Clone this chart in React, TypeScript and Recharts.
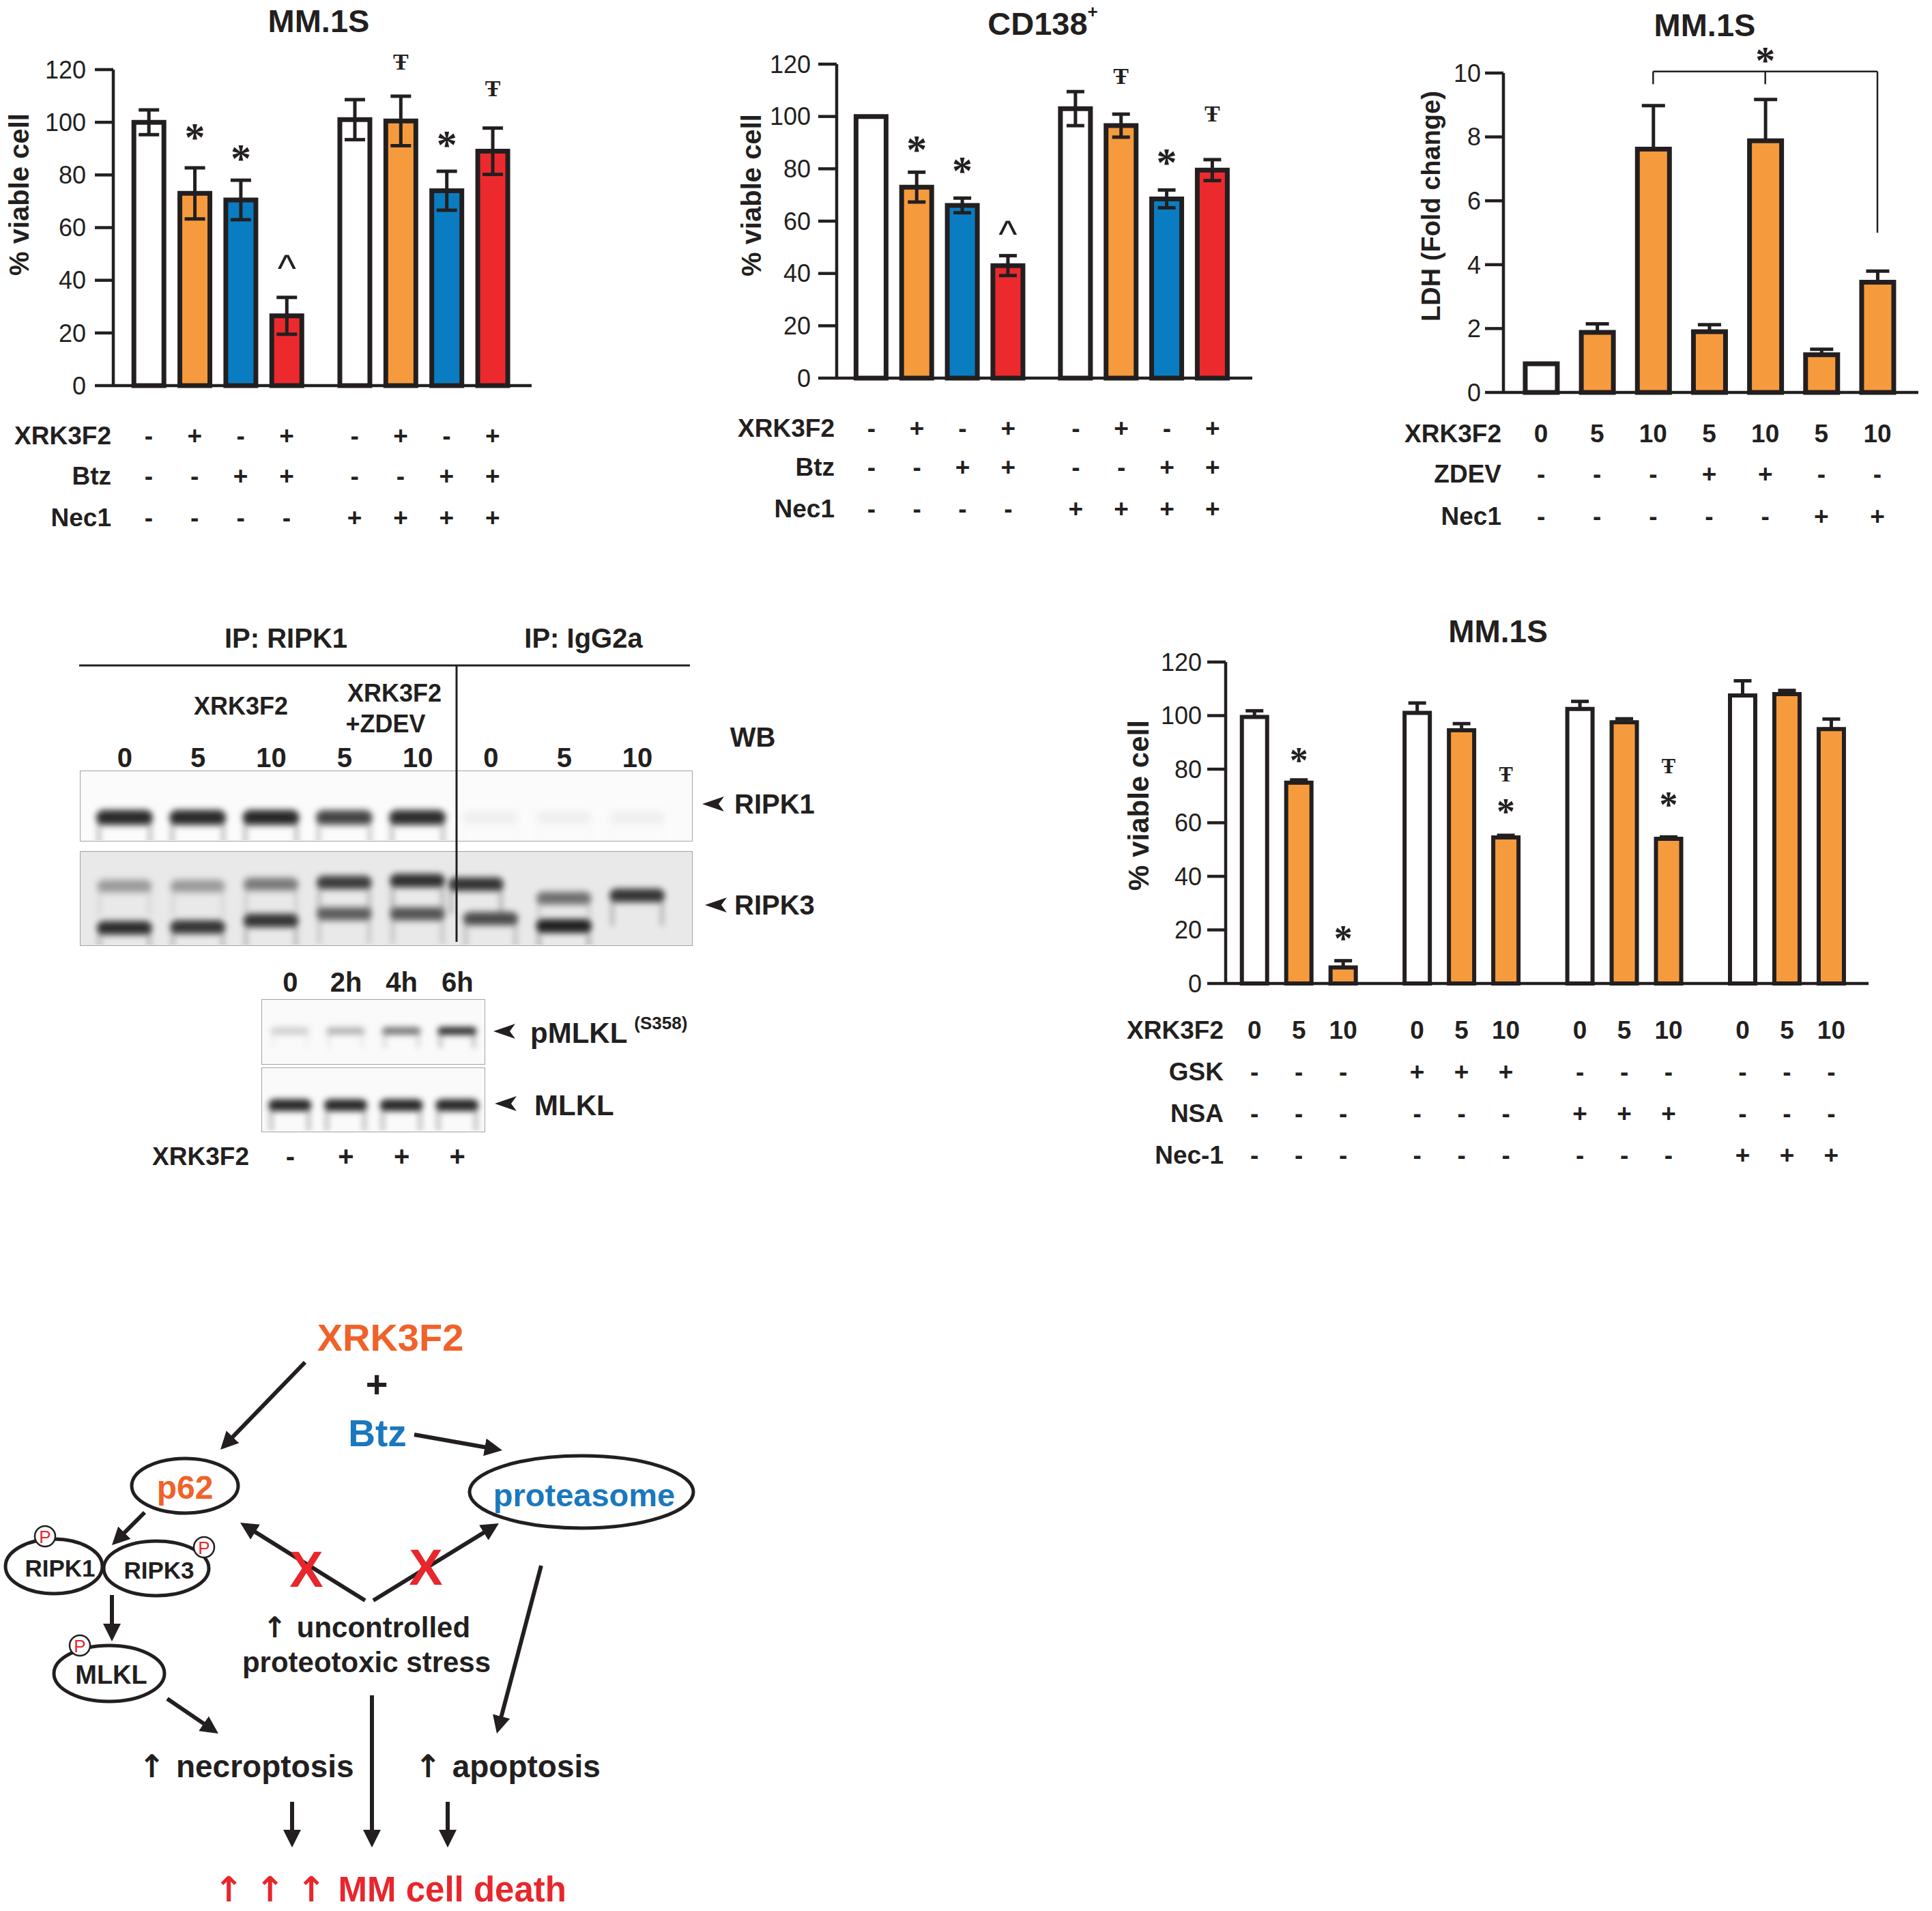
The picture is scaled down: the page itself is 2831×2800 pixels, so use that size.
import React from "react";
import {
  Bar,
  Cell,
  ComposedChart,
  ErrorBar,
  LabelList,
  ReferenceDot,
  ReferenceLine,
  Scatter,
  ScatterChart,
  XAxis,
  YAxis,
} from "recharts";

const INK = "#231f20";
const ORANGE = "#f59b3d";
const BLUE = "#0a7dc2";
const RED = "#ec2a2e";
const TXT_ORANGE = "#f0622a";
const TXT_BLUE = "#1a78bd";
const TXT_RED = "#e8262c";
const SANS = "'Liberation Sans', Arial, Helvetica, sans-serif";
const SERIF = "'Liberation Serif', 'Times New Roman', serif";
const ARROWS = "'DejaVu Sans', sans-serif";

// top left (MM.1S) and top middle (CD138+) share the treatment grid
const comboXrk = ["-", "+", "-", "+", "-", "+", "-", "+"];
const comboBtz = ["-", "-", "+", "+", "-", "-", "+", "+"];
const comboNec1 = ["-", "-", "-", "-", "+", "+", "+", "+"];

const mmViable = [100, 73, 70.5, 26.5, 101, 100.5, 74, 89];
const mmViableSem = [4.7, 9.7, 7.5, 7, 7.6, 9.4, 7.4, 8.8];
const mmViableMarks = ["", "*", "*", "^", "", "Ŧ", "*", "Ŧ"];
const mmViableMarkAt = [null, 97, 89, 47, null, 123, 94, 113];

const cdViable = [100, 73, 66, 43, 103, 96.5, 68.5, 79.5];
const cdViableSem = [null, 5.7, 2.8, 3.8, 6.5, 4.4, 3.4, 4];
const cdViableMarks = ["", "*", "*", "^", "", "Ŧ", "*", "Ŧ"];
const cdViableMarkAt = [null, 90, 82, 57.5, null, 115.5, 85, 101];

// LDH release
const ldhDose = ["0", "5", "10", "5", "10", "5", "10"];
const ldhZdev = ["-", "-", "-", "+", "+", "-", "-"];
const ldhNec1 = ["-", "-", "-", "-", "-", "+", "+"];
const ldhFold = [0.9, 1.88, 7.62, 1.9, 7.88, 1.18, 3.45];
const ldhSem = [null, 0.27, 1.36, 0.22, 1.29, 0.17, 0.35];
const ldhBracketBars = [2, 4, 6];
const ldhBracketEnds = [9.65, 9.65, 5.0];
const ldhBracketTop = 10.05;
const ldhStarAt = 10.62;

// MM.1S with necroptosis inhibitors
const inhDose = ["0", "5", "10", "0", "5", "10", "0", "5", "10", "0", "5", "10"];
const inhGsk = ["-", "-", "-", "+", "+", "+", "-", "-", "-", "-", "-", "-"];
const inhNsa = ["-", "-", "-", "-", "-", "-", "+", "+", "+", "-", "-", "-"];
const inhNec1 = ["-", "-", "-", "-", "-", "-", "-", "-", "-", "+", "+", "+"];
const inhViable = [99.5, 75, 6, 101, 94.5, 54.5, 102.5, 97.5, 54, 107.5, 108, 95];
const inhSem = [2.3, 1, 2.5, 3.7, 2.5, 0.8, 2.8, 1.3, 0.7, 5.5, 1.4, 3.7];
const inhStars = ["", "*", "*", "", "", "*", "", "", "*", "", "", ""];
const inhStarAt = [null, 85.5, 19, null, null, 66.5, null, null, 69, null, null, null];
const inhDaggers = ["", "", "", "", "", "Ŧ", "", "", "Ŧ", "", "", ""];
const inhDaggerAt = [null, null, null, null, null, 78, null, null, 81, null, null, null];

// western blots (band darkness 0..1)
const ipLanes = ["0", "5", "10", "5", "10", "0", "5", "10"];
const ripk1Lane = [0, 1, 2, 3, 4, 5, 6, 7];
const ripk1Level = [0.95, 0.95, 0.97, 0.78, 0.92, 0.04, 0.04, 0.04];
const ripk3Lane = [0, 0, 1, 1, 2, 2, 3, 3, 4, 4, 4.8, 5, 6, 6, 7];
const ripk3Pos = [0.37, 0.82, 0.37, 0.81, 0.35, 0.74, 0.33, 0.67, 0.31, 0.67, 0.35, 0.72, 0.5, 0.8, 0.47];
const ripk3Level = [0.3, 0.9, 0.3, 0.85, 0.45, 0.85, 0.8, 0.6, 0.88, 0.65, 0.85, 0.7, 0.5, 1, 0.85];
const timeLanes = ["0", "2h", "4h", "6h"];
const timeXrk = ["-", "+", "+", "+"];
const mlklLane = [0, 1, 2, 3];
const pmlklLevel = [0.15, 0.25, 0.5, 0.9];
const mlklLevel = [0.97, 0.97, 0.97, 0.97];

const slots = (n: number, groupSize: number, gap: number) =>
  Array.from({ length: n }, (_, i) => Math.floor(i / groupSize) * (groupSize + gap) + (i % groupSize));

const comboFill = (i: number) =>
  comboXrk[i] === "+" ? (comboBtz[i] === "+" ? RED : ORANGE) : comboBtz[i] === "+" ? BLUE : "#ffffff";
const doseFill = (d: string) => (d === "0" ? "#ffffff" : ORANGE);

const LIFT: Record<string, number> = { "*": 0.5, "^": 0.5, "Ŧ": 0.34 };
const GLYPH: Record<string, number> = { "*": 60, "^": 58, "Ŧ": 34 };

function markContent(texts: string[], at: (number | null)[], values: number[], scale: number) {
  return (props: any) => {
    const i = props.index;
    const vb = props.viewBox ?? props;
    const t = texts[i];
    const a = at[i];
    if (!t || a == null || !vb || !vb.height) return null;
    const zeroY = vb.y + vb.height;
    const y = zeroY - (a * vb.height) / values[i];
    const size = GLYPH[t] * scale;
    return (
      <text
        x={vb.x + vb.width / 2}
        y={y + LIFT[t] * size}
        textAnchor="middle"
        fontSize={size}
        fontWeight={t === "^" ? 400 : 700}
        fontFamily={t === "^" ? SANS : SERIF}
        fill={INK}
      >
        {t}
      </text>
    );
  };
}

type Row = { label: string; values: string[] };
type MarkRow = { text: string[]; at: (number | null)[] };

type PanelProps = {
  left: number;
  top: number;
  width: number;
  height: number;
  yAxisWidth: number;
  marginTop: number;
  marginRight: number;
  xAxisHeight: number;
  xs: number[];
  xDomain: [number, number];
  values: number[];
  errors: (number | null)[];
  oneSided?: boolean;
  fills: string[];
  yMax: number;
  yTicks: number[];
  tickMargin: number;
  barSize: number;
  barStroke: number;
  capHalf: number;
  rows: Row[];
  rowOffsets: number[];
  marks: MarkRow[];
  markScale?: number;
  children?: React.ReactNode;
};

function BarPanel(p: PanelProps) {
  const data = p.values.map((v, i) => ({
    x: p.xs[i],
    v,
    e: p.errors[i] == null ? null : p.oneSided ? [0, p.errors[i]] : p.errors[i],
  }));
  const labelX = p.yAxisWidth - 3;
  const renderRows = (props: any) => {
    const { x, y, index } = props;
    return (
      <g>
        {p.rows.map((r, ri) => (
          <text
            key={`v${ri}`}
            x={x}
            y={y + p.rowOffsets[ri]}
            textAnchor="middle"
            dominantBaseline="central"
            fontSize={37}
            fontWeight={700}
            fontFamily={SANS}
            fill={INK}
          >
            {r.values[index]}
          </text>
        ))}
        {index === 0 &&
          p.rows.map((r, ri) => (
            <text
              key={`l${ri}`}
              x={labelX}
              y={y + p.rowOffsets[ri]}
              textAnchor="end"
              dominantBaseline="central"
              fontSize={37}
              fontWeight={700}
              fontFamily={SANS}
              fill={INK}
            >
              {r.label}
            </text>
          ))}
      </g>
    );
  };
  return (
    <div style={{ position: "absolute", left: p.left, top: p.top }}>
      <ComposedChart
        width={p.width}
        height={p.height}
        data={data}
        margin={{ top: p.marginTop, right: p.marginRight, bottom: 0, left: 0 }}
      >
        <XAxis
          type="number"
          dataKey="x"
          domain={p.xDomain}
          ticks={p.xs}
          interval={0}
          height={p.xAxisHeight}
          tickLine={false}
          tickSize={0}
          tickMargin={0}
          axisLine={{ stroke: INK, strokeWidth: 4.5 }}
          tick={renderRows}
        />
        <YAxis
          type="number"
          domain={[0, p.yMax]}
          ticks={p.yTicks}
          interval={0}
          width={p.yAxisWidth}
          tickSize={27}
          tickMargin={p.tickMargin}
          axisLine={{ stroke: INK, strokeWidth: 4.5 }}
          tickLine={{ stroke: INK, strokeWidth: 4.5 }}
          tick={{ fill: INK, fontSize: 36, fontFamily: SANS }}
        />
        <Bar dataKey="v" barSize={p.barSize} stroke={INK} strokeWidth={p.barStroke} isAnimationActive={false}>
          {data.map((_, i) => (
            <Cell key={i} fill={p.fills[i]} />
          ))}
          <ErrorBar dataKey="e" width={p.capHalf} stroke={INK} strokeWidth={5} direction="y" />
          {p.marks.map((m, mi) => (
            <LabelList key={mi} dataKey="v" content={markContent(m.text, m.at, p.values, p.markScale ?? 1)} />
          ))}
        </Bar>
        {p.children}
      </ComposedChart>
    </div>
  );
}

function Band(props: any) {
  const { cx, cy, payload, w, h } = props;
  if (cx == null || cy == null) return null;
  const lv = payload.level;
  return (
    <g filter="url(#bandBlur)">
      <rect x={cx - w / 2 + 2} y={cy - 4} width={5} height={h * 2.2} fill="#000" fillOpacity={lv * 0.3} />
      <rect x={cx + w / 2 - 7} y={cy - 4} width={5} height={h * 2.2} fill="#000" fillOpacity={lv * 0.3} />
      <rect x={cx - w / 2} y={cy - h / 2} width={w} height={h} rx={h / 2} fill="#000" fillOpacity={lv * 0.7} />
      <rect
        x={cx - w / 2 + 6}
        y={cy - h / 4}
        width={w - 12}
        height={h / 2}
        rx={h / 4}
        fill="#000"
        fillOpacity={lv * 0.6}
      />
    </g>
  );
}

type BlotProps = {
  left: number;
  top: number;
  width: number;
  height: number;
  lanes: number[];
  pos: number[];
  level: number[];
  xDomain: [number, number];
  bandW: number;
  bandH: number;
  bg: string;
};

function Blot(b: BlotProps) {
  const data = b.lanes.map((lane, i) => ({ lane, pos: b.pos[i], level: b.level[i] }));
  return (
    <div
      style={{
        position: "absolute",
        left: b.left,
        top: b.top,
        width: b.width,
        height: b.height,
        background: b.bg,
        border: "1.5px solid #a3a3a3",
        boxSizing: "border-box",
        overflow: "hidden",
      }}
    >
      <ScatterChart width={b.width - 3} height={b.height - 3} margin={{ top: 0, right: 0, bottom: 0, left: 0 }}>
        <XAxis type="number" dataKey="lane" domain={b.xDomain} hide />
        <YAxis type="number" dataKey="pos" domain={[0, 1]} reversed hide />
        <Scatter
          data={data}
          isAnimationActive={false}
          shape={(props: any) => <Band {...props} w={b.bandW} h={b.bandH} />}
        />
      </ScatterChart>
    </div>
  );
}

const T = (props: any) => (
  <text
    fontFamily={SANS}
    fontWeight={700}
    fill={INK}
    textAnchor="middle"
    dominantBaseline="central"
    {...props}
  />
);

function Arrow({ x1, y1, x2, y2 }: { x1: number; y1: number; x2: number; y2: number }) {
  const len = Math.hypot(x2 - x1, y2 - y1);
  const k = (len - 14) / len;
  return (
    <line
      x1={x1}
      y1={y1}
      x2={x1 + (x2 - x1) * k}
      y2={y1 + (y2 - y1) * k}
      stroke={INK}
      strokeWidth={6}
      markerEnd="url(#ah)"
    />
  );
}

const Pointer = ({ x, y }: { x: number; y: number }) => (
  <path d={`M${x},${y} L${x + 32},${y - 11} L${x + 24},${y} L${x + 32},${y + 11} Z`} fill={INK} />
);

const Phos = ({ x, y }: { x: number; y: number }) => (
  <g>
    <circle cx={x} cy={y} r={15} fill="#fff" stroke={INK} strokeWidth={2.5} />
    <text x={x} y={y + 1} textAnchor="middle" dominantBaseline="central" fontSize={26} fontFamily={SANS} fill={TXT_RED}>
      P
    </text>
  </g>
);

const Up = () => (
  <tspan fontFamily={ARROWS} fontWeight={700}>
    {"↑ "}
  </tspan>
);

// lane centres of the blots, taken from the same domains as the blot charts
const IP_DOMAIN: [number, number] = [-0.6, 7.74];
const TIME_DOMAIN: [number, number] = [-0.5, 3.48];
const laneX = (lane: number, left: number, inner: number, d: [number, number]) =>
  left + 1.5 + ((lane - d[0]) / (d[1] - d[0])) * inner;

export default function App() {
  const abXs = slots(8, 4, 0.48);
  const ldhXs = slots(7, 7, 0);
  const inhXs = slots(12, 3, 0.67);
  return (
    <div
      style={{
        position: "absolute",
        left: 0,
        top: 0,
        width: 2831,
        height: 2800,
        background: "#fff",
        overflow: "hidden",
        fontFamily: SANS,
      }}
    >
      <svg width={0} height={0} style={{ position: "absolute" }}>
        <defs>
          <filter id="bandBlur" x="-30%" y="-100%" width="160%" height="300%">
            <feGaussianBlur stdDeviation="4" />
          </filter>
        </defs>
      </svg>

      <BarPanel
        left={0}
        top={0}
        width={800}
        height={800}
        yAxisWidth={166}
        marginTop={102}
        marginRight={21}
        xAxisHeight={235}
        xs={abXs}
        xDomain={[-0.77, 8.33]}
        values={mmViable}
        errors={mmViableSem}
        fills={mmViable.map((_, i) => comboFill(i))}
        yMax={120}
        yTicks={[0, 20, 40, 60, 80, 100, 120]}
        tickMargin={13}
        barSize={44}
        barStroke={7}
        capHalf={15}
        rows={[
          { label: "XRK3F2", values: comboXrk },
          { label: "Btz", values: comboBtz },
          { label: "Nec1", values: comboNec1 },
        ]}
        rowOffsets={[73, 132, 193]}
        marks={[{ text: mmViableMarks, at: mmViableMarkAt }]}
      />

      <BarPanel
        left={1040}
        top={0}
        width={810}
        height={800}
        yAxisWidth={186}
        marginTop={94}
        marginRight={15}
        xAxisHeight={246}
        xs={abXs}
        xDomain={[-0.76, 8.35]}
        values={cdViable}
        errors={cdViableSem}
        fills={cdViable.map((_, i) => comboFill(i))}
        yMax={120}
        yTicks={[0, 20, 40, 60, 80, 100, 120]}
        tickMargin={11}
        barSize={44}
        barStroke={7}
        capHalf={13}
        rows={[
          { label: "XRK3F2", values: comboXrk },
          { label: "Btz", values: comboBtz },
          { label: "Nec1", values: comboNec1 },
        ]}
        rowOffsets={[73, 130, 191]}
        marks={[{ text: cdViableMarks, at: cdViableMarkAt }]}
      />

      <BarPanel
        left={2020}
        top={0}
        width={811}
        height={800}
        yAxisWidth={183}
        marginTop={107}
        marginRight={20}
        xAxisHeight={225}
        xs={ldhXs}
        xDomain={[-0.67, 6.73]}
        values={ldhFold}
        errors={ldhSem}
        oneSided
        fills={ldhDose.map(doseFill)}
        yMax={10}
        yTicks={[0, 2, 4, 6, 8, 10]}
        tickMargin={6}
        barSize={47}
        barStroke={7}
        capHalf={17}
        rows={[
          { label: "XRK3F2", values: ldhDose },
          { label: "ZDEV", values: ldhZdev },
          { label: "Nec1", values: ldhNec1 },
        ]}
        rowOffsets={[60, 119, 181]}
        marks={[]}
      >
        <ReferenceLine
          segment={[
            { x: ldhBracketBars[0], y: ldhBracketTop },
            { x: ldhBracketBars[2], y: ldhBracketTop },
          ]}
          stroke={INK}
          strokeWidth={2.5}
          ifOverflow="visible"
        />
        {ldhBracketBars.map((bx, i) => (
          <ReferenceLine
            key={bx}
            segment={[
              { x: bx, y: ldhBracketTop },
              { x: bx, y: ldhBracketEnds[i] },
            ]}
            stroke={INK}
            strokeWidth={2.5}
            ifOverflow="visible"
          />
        ))}
        <ReferenceDot
          x={ldhBracketBars[1]}
          y={ldhStarAt}
          r={0}
          ifOverflow="visible"
          shape={(s: any) => (
            <text x={s.cx} y={s.cy + 30} textAnchor="middle" fontSize={58} fontWeight={700} fontFamily={SERIF} fill={INK}>
              *
            </text>
          )}
        />
      </BarPanel>

      <BarPanel
        left={1620}
        top={880}
        width={1211}
        height={860}
        yAxisWidth={176}
        marginTop={90}
        marginRight={93}
        xAxisHeight={299}
        xs={inhXs}
        xDomain={[-0.65, 13.85]}
        values={inhViable}
        errors={inhSem}
        oneSided
        fills={inhDose.map(doseFill)}
        yMax={120}
        yTicks={[0, 20, 40, 60, 80, 100, 120]}
        tickMargin={8}
        barSize={37}
        barStroke={6}
        capHalf={13}
        rows={[
          { label: "XRK3F2", values: inhDose },
          { label: "GSK", values: inhGsk },
          { label: "NSA", values: inhNsa },
          { label: "Nec-1", values: inhNec1 },
        ]}
        rowOffsets={[68, 129, 190, 251]}
        marks={[
          { text: inhStars, at: inhStarAt },
          { text: inhDaggers, at: inhDaggerAt },
        ]}
        markScale={0.9}
      />

      <Blot
        left={117}
        top={1129}
        width={898}
        height={104}
        lanes={ripk1Lane}
        pos={ripk1Lane.map(() => 0.67)}
        level={ripk1Level}
        xDomain={IP_DOMAIN}
        bandW={84}
        bandH={24}
        bg="#fbfbfb"
      />
      <Blot
        left={117}
        top={1247}
        width={898}
        height={139}
        lanes={ripk3Lane}
        pos={ripk3Pos}
        level={ripk3Level}
        xDomain={IP_DOMAIN}
        bandW={82}
        bandH={22}
        bg="#e9e9e9"
      />
      <Blot
        left={383}
        top={1464}
        width={328}
        height={96}
        lanes={mlklLane}
        pos={mlklLane.map(() => 0.49)}
        level={pmlklLevel}
        xDomain={TIME_DOMAIN}
        bandW={58}
        bandH={13}
        bg="#fafafa"
      />
      <Blot
        left={383}
        top={1564}
        width={328}
        height={95}
        lanes={mlklLane}
        pos={mlklLane.map(() => 0.59)}
        level={mlklLevel}
        xDomain={TIME_DOMAIN}
        bandW={64}
        bandH={19}
        bg="#fafafa"
      />

      <svg
        width={2831}
        height={2800}
        style={{ position: "absolute", left: 0, top: 0, pointerEvents: "none" }}
      >
        <defs>
          <marker
            id="ah"
            markerUnits="userSpaceOnUse"
            markerWidth={30}
            markerHeight={30}
            refX={12}
            refY={13}
            orient="auto"
          >
            <path d="M0,0 L26,13 L0,26 z" fill={INK} />
          </marker>
        </defs>

        {/* bar chart titles and axis titles */}
        <T x={467} y={30} fontSize={47}>MM.1S</T>
        <T x={1528} y={34} fontSize={47}>
          CD138<tspan dy={-17} fontSize={26}>+</tspan>
        </T>
        <T x={2498} y={36} fontSize={47}>MM.1S</T>
        <T x={2195} y={925} fontSize={46}>MM.1S</T>
        <T x={28} y={285} fontSize={40} transform="rotate(-90 28 285)">% viable cell</T>
        <T x={1101} y={286} fontSize={40} transform="rotate(-90 1101 286)">% viable cell</T>
        <T x={2097} y={302} fontSize={38} transform="rotate(-90 2097 302)">LDH (Fold change)</T>
        <T x={1668} y={1180} fontSize={42} transform="rotate(-90 1668 1180)">% viable cell</T>

        {/* co-IP blot labels */}
        <T x={419} y={935} fontSize={40}>IP: RIPK1</T>
        <T x={855} y={935} fontSize={40}>IP: IgG2a</T>
        <line x1={116} y1={975} x2={1011} y2={975} stroke={INK} strokeWidth={3} />
        <line x1={669} y1={975} x2={669} y2={1380} stroke={INK} strokeWidth={3} />
        <T x={353} y={1034} fontSize={36}>XRK3F2</T>
        <T x={578} y={1015} fontSize={36}>XRK3F2</T>
        <T x={565} y={1060} fontSize={36}>+ZDEV</T>
        <T x={1103} y={1080} fontSize={40}>WB</T>
        {ipLanes.map((l, i) => (
          <T key={i} x={laneX(i, 117, 895, IP_DOMAIN)} y={1110} fontSize={40}>
            {l}
          </T>
        ))}
        <Pointer x={1029} y={1178} />
        <T x={1076} y={1178} fontSize={40} textAnchor="start">RIPK1</T>
        <Pointer x={1033} y={1326} />
        <T x={1076} y={1326} fontSize={40} textAnchor="start">RIPK3</T>

        {timeLanes.map((l, i) => (
          <T key={i} x={laneX(i, 383, 325, TIME_DOMAIN)} y={1439} fontSize={40}>
            {l}
          </T>
        ))}
        <Pointer x={723} y={1511} />
        <T x={777} y={1513} fontSize={42} textAnchor="start">
          pMLKL<tspan dx={10} dy={-14} fontSize={26}>(S358)</tspan>
        </T>
        <Pointer x={725} y={1617} />
        <T x={783} y={1619} fontSize={42} textAnchor="start">MLKL</T>
        <T x={365} y={1694} fontSize={37} textAnchor="end">XRK3F2</T>
        {timeXrk.map((s, i) => (
          <T key={i} x={laneX(i, 383, 325, TIME_DOMAIN)} y={1694} fontSize={40}>
            {s}
          </T>
        ))}

        {/* mechanism scheme */}
        <T x={572} y={1959} fontSize={56} fill={TXT_ORANGE}>XRK3F2</T>
        <T x={552} y={2027} fontSize={56}>+</T>
        <T x={553} y={2100} fontSize={55} fill={TXT_BLUE}>Btz</T>
        <Arrow x1={447} y1={1996} x2={323} y2={2124} />
        <Arrow x1={607} y1={2102} x2={736} y2={2125} />

        <ellipse cx={271} cy={2177} rx={78} ry={40} fill="#fff" stroke={INK} strokeWidth={5} />
        <T x={271} y={2179} fontSize={48} fill={TXT_ORANGE}>p62</T>
        <ellipse cx={852} cy={2186} rx={164} ry={53} fill="#fff" stroke={INK} strokeWidth={5} />
        <T x={856} y={2190} fontSize={47} fill={TXT_BLUE}>proteasome</T>

        <Arrow x1={212} y1={2216} x2={164} y2={2264} />
        <ellipse cx={79} cy={2295} rx={71} ry={40} fill="#fff" stroke={INK} strokeWidth={5} />
        <ellipse cx={229} cy={2298} rx={77} ry={40} fill="#fff" stroke={INK} strokeWidth={5} />
        <T x={88} y={2297} fontSize={35}>RIPK1</T>
        <T x={233} y={2300} fontSize={35}>RIPK3</T>
        <Phos x={66} y={2251} />
        <Phos x={299} y={2267} />

        <Arrow x1={164} y1={2337} x2={164} y2={2405} />
        <ellipse cx={160} cy={2452} rx={81} ry={41} fill="#fff" stroke={INK} strokeWidth={5} />
        <T x={163} y={2454} fontSize={38}>MLKL</T>
        <Phos x={117} y={2411} />
        <Arrow x1={245} y1={2489} x2={320} y2={2540} />

        <Arrow x1={535} y1={2345} x2={352} y2={2231} />
        <Arrow x1={547} y1={2345} x2={731} y2={2232} />
        <T x={449} y={2299} fontSize={74} fill={TXT_RED}>X</T>
        <T x={624} y={2296} fontSize={74} fill={TXT_RED}>X</T>

        <T x={537} y={2384} fontSize={42}>
          <Up />uncontrolled
        </T>
        <T x={537} y={2435} fontSize={42}>proteotoxic stress</T>
        <Arrow x1={793} y1={2294} x2={728} y2={2540} />
        <T x={361} y={2588} fontSize={46}>
          <Up />necroptosis
        </T>
        <T x={744} y={2588} fontSize={46}>
          <Up />apoptosis
        </T>
        <Arrow x1={545} y1={2484} x2={545} y2={2707} />
        <Arrow x1={428} y1={2640} x2={428} y2={2707} />
        <Arrow x1={656} y1={2640} x2={656} y2={2707} />
        <T x={572} y={2768} fontSize={51} fill={TXT_RED}>
          <Up />
          <Up />
          <Up />
          MM cell death
        </T>
      </svg>
    </div>
  );
}
